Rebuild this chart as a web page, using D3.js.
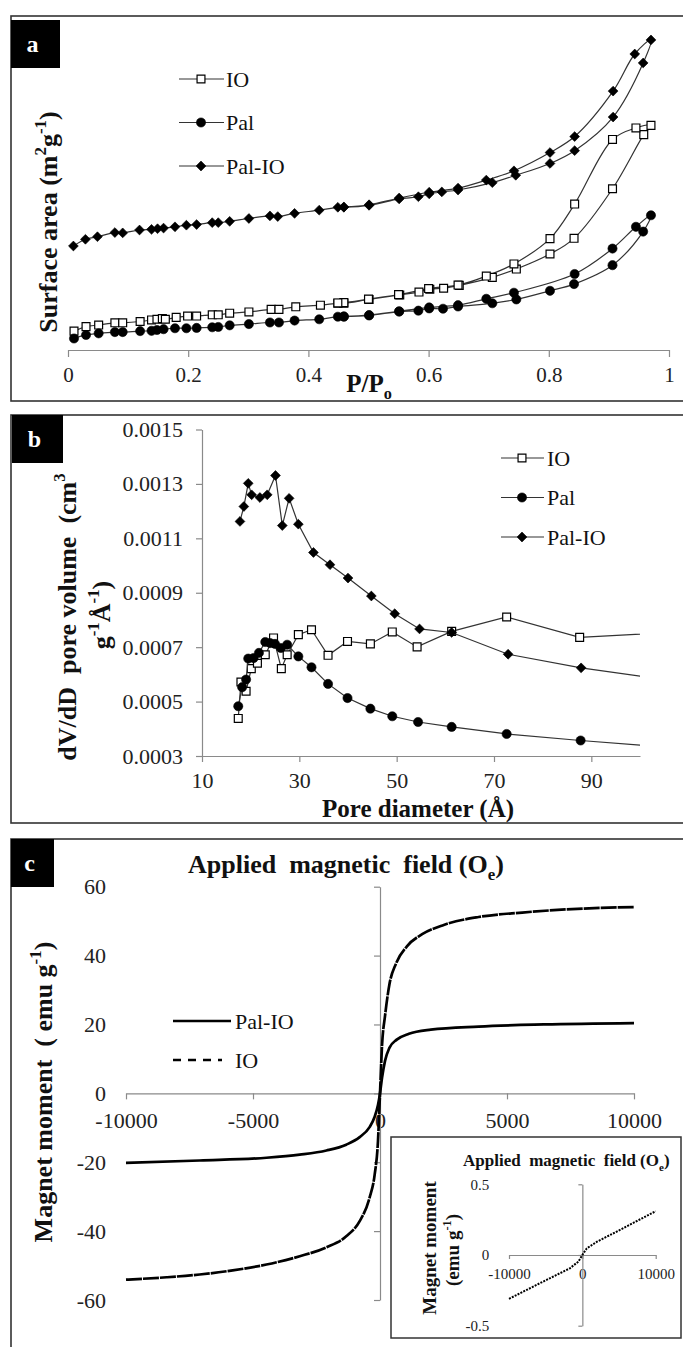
<!DOCTYPE html>
<html>
<head>
<meta charset="utf-8">
<script src="https://cdn.jsdelivr.net/npm/d3@7"></script>
<style>
  body { margin: 0; background: #fff; }
  svg, svg text { font-family: 'Liberation Serif', 'Times New Roman', serif !important; }
  text { fill: #111; }
  .axis path, .axis line { stroke: #8a8a8a; stroke-width: 1.2; }
  .axis text { fill: #222; }
</style>
</head>
<body>
<script>

// ---- data ----

// a: N2 isotherms, adsorption branch then desorption branch (arbitrary units, no y ticks)
var ioP = [0.010,0.030,0.051,0.078,0.091,0.120,0.139,0.148,0.157,0.162,0.180,0.199,0.214,0.240,0.250,0.269,0.301,0.338,0.351,0.379,0.420,0.449,0.459,0.501,0.552,0.584,0.602,0.625,0.651,0.706,0.746,0.802,0.842,0.906,0.958,0.970,
           0.945,0.906,0.843,0.802,0.742,0.696,0.649,0.600,0.550,0.500,0.459,0.449];
var ioS = [5.9,7.3,7.8,8.5,8.5,8.9,9.4,9.6,9.8,9.6,10.2,10.6,10.6,11.0,11.0,11.5,11.9,12.7,12.7,13.5,14.0,14.6,14.6,15.8,17.2,18.1,19.0,19.3,20.2,22.7,25.3,30.0,34.9,50.4,67.3,70.2,
           69.4,65.8,45.6,34.8,26.9,23.1,20.3,19.2,17.3,15.9,14.8,14.7];

var palP = [0.010,0.030,0.051,0.078,0.091,0.120,0.139,0.148,0.159,0.178,0.197,0.214,0.240,0.250,0.269,0.301,0.336,0.351,0.377,0.418,0.449,0.459,0.501,0.551,0.583,0.601,0.624,0.649,0.706,0.746,0.802,0.842,0.906,0.957,0.970,
            0.945,0.906,0.843,0.742,0.696,0.649,0.601,0.551,0.501,0.459];
var palS = [3.6,4.7,5.2,5.6,5.6,5.9,6.0,6.25,6.5,6.8,6.8,6.9,7.1,7.2,7.7,8.1,8.6,8.6,9.2,9.6,10.4,10.4,10.8,12.0,12.3,13.0,12.9,13.6,14.6,15.8,18.5,20.6,26.5,37.0,42.1,
            38.5,31.7,23.75,17.9,16.0,14.0,13.3,12.1,10.9,10.5];

var palIoP = [0.009,0.029,0.049,0.078,0.091,0.119,0.139,0.149,0.159,0.178,0.197,0.214,0.240,0.250,0.269,0.301,0.336,0.349,0.377,0.418,0.449,0.459,0.501,0.551,0.583,0.601,0.622,0.649,0.706,0.745,0.802,0.843,0.907,0.957,0.970,
              0.943,0.907,0.843,0.802,0.742,0.696,0.649,0.601,0.551,0.501,0.459];
var palIoS = [32.5,34.6,35.4,36.7,36.6,37.5,37.7,37.9,38.1,38.5,39.0,39.2,39.8,39.8,40.2,41.1,41.9,41.7,42.7,43.7,44.6,44.6,45.2,47.2,47.9,48.8,49.4,50.0,52.3,54.6,58.3,62.3,72.8,89.7,96.9,
              92.5,80.9,66.7,61.7,56.0,53.1,50.6,49.3,47.5,45.4,44.7];

var pTicks = [0, 0.2, 0.4, 0.6, 0.8, 1];

// b: pore size distribution
var ioD = [17.45,18.0,19.06,20.13,21.39,23.0,24.7,26.3,27.5,29.8,32.5,35.9,39.9,44.6,49.1,54.2,61.3,72.6,87.6,106];
var ioV = [0.000438,0.000572,0.000538,0.000621,0.000641,0.000672,0.000734,0.000621,0.000672,0.000746,0.000764,0.000670,0.000721,0.000712,0.000756,0.000701,0.000758,0.000811,0.000736,0.000754];

var palD = [17.45,18.25,19.06,19.5,20.6,21.7,23.0,24.0,25.0,26.2,27.5,29.8,32.5,35.9,39.9,44.6,49.1,54.4,61.3,72.6,87.8,106];
var palV = [0.000483,0.000553,0.000581,0.000658,0.000660,0.000679,0.000719,0.000715,0.000712,0.000697,0.000709,0.000666,0.000626,0.000565,0.000513,0.000474,0.000446,0.000425,0.000407,0.000381,0.000357,0.000332];

var palIoD = [17.8,18.6,19.5,20.2,21.9,23.4,25.1,26.5,27.9,29.8,32.9,36.3,40.0,44.8,49.6,54.7,61.3,72.9,87.9,106];
var palIoV = [0.001162,0.001217,0.001302,0.001260,0.001250,0.001260,0.001331,0.001147,0.001247,0.001152,0.001048,0.001003,0.000954,0.000888,0.000823,0.000767,0.000754,0.000674,0.000624,0.000578];

var dTicks = [10, 30, 50, 70, 90];
var vTicks = [0.0003, 0.0005, 0.0007, 0.0009, 0.0011, 0.0013, 0.0015];

// c: magnetization
var ioH = [-10000,-8400,-7100,-5800,-4470,-3160,-2110,-1330,-800,-410,-210,-80,0,80,200,370,630,1060,1660,2510,3880,5600,7300,10000];
var ioM = [-54.1,-53.4,-52.6,-51.4,-49.7,-47.3,-44.7,-41.5,-37.1,-30.3,-23.6,-13.9,0,13.9,22.6,31.6,37.7,42.7,46.2,48.9,51.2,52.5,53.4,54.1];

var palIoH = [-10000,-7100,-4470,-3160,-2110,-1330,-800,-410,-210,-80,0,80,200,370,660,1140,2000,3880,6450,10000];
var palIoM = [-20.2,-19.5,-18.7,-17.8,-16.6,-14.9,-12.7,-9.8,-6.8,-3.4,0,4.5,9.5,13.2,15.6,17.3,18.5,19.4,20.0,20.4];

var hTicks = [-10000, -5000, 0, 5000, 10000];
var mTicks = [-60, -40, -20, 0, 20, 40, 60];

// inset: Pal alone
var palH = [-10000,-5800,-1700,-550,0,600,2000,5600,10000];
var palM = [-0.31,-0.20,-0.094,-0.047,0,0.047,0.094,0.19,0.31];
var insetHTicks = [-10000, 0, 10000];
var insetMTicks = [-0.5, 0, 0.5];


// ---- setup ----

var serif = "'Liberation Serif', 'Times New Roman', serif";
var plain = function(d) { return String(d); };

var svg = d3.select('body').append('svg')
    .attr('width', 683)
    .attr('height', 1347)
    .attr('font-family', serif);

svg.append('rect').attr('width', 683).attr('height', 1347).attr('fill', '#fff');

// write text with super/subscripts
var rich = function(t, parts, fs) {
  var shift = 0;
  parts.forEach(function(p) {
    var target = p[1] === 'sup' ? -0.42 * fs : (p[1] === 'sub' ? 0.28 * fs : 0);
    t.append('tspan')
      .attr('dy', target - shift)
      .style('font-size', (p[1] ? 0.65 * fs : fs) + 'px')
      .text(p[0]);
    shift = target;
  });
  return t;
};

// axis helper: serif labels
var styleAxis = function(g, size) {
  g.attr('font-family', serif);
  g.selectAll('text').style('font-size', size + 'px').style('font-family', serif);
  return g;
};

var symbolPath = function(type) {
  if (type === 'square') return d3.symbol().type(d3.symbolSquare).size(62)();
  if (type === 'circle') return d3.symbol().type(d3.symbolCircle).size(66)();
  return d3.symbol().type(d3.symbolSquare).size(48)();
};

var drawMarks = function(g, pts, sx, sy, type) {
  g.selectAll(null)
    .data(pts)
    .enter().append('path')
    .attr('d', symbolPath(type))
    .attr('transform', function(d) {
      return 'translate(' + sx(d[0]) + ',' + sy(d[1]) + ')' + (type === 'diamond' ? ' rotate(45)' : '');
    })
    .attr('fill', type === 'square' ? '#fff' : '#000')
    .attr('stroke', '#000')
    .attr('stroke-width', type === 'square' ? 1.2 : 0.6);
};

// panel frames
var frames = [[16, 401], [415, 823], [839, 1370]];
svg.selectAll('rect.frame')
    .data(frames)
  .enter().append('rect')
    .attr('class', 'frame')
    .attr('x', 11)
    .attr('y', function(d) { return d[0]; })
    .attr('width', 690)
    .attr('height', function(d) { return d[1] - d[0]; })
    .attr('fill', 'none')
    .attr('stroke', '#333')
    .attr('stroke-width', 1.6);

// black tags a, b, c
var tags = [
  {t: 'a', x: 11, y: 20, w: 49, h: 48},
  {t: 'b', x: 12, y: 415, w: 51, h: 48},
  {t: 'c', x: 11, y: 839, w: 43, h: 48}
];
var tag = svg.selectAll('g.tag').data(tags).enter().append('g').attr('class', 'tag');
tag.append('rect')
    .attr('x', function(d) { return d.x; })
    .attr('y', function(d) { return d.y; })
    .attr('width', function(d) { return d.w; })
    .attr('height', function(d) { return d.h; })
    .attr('fill', '#000');
tag.append('text')
    .attr('x', function(d) { return d.x + d.w / 2 - 3; })
    .attr('y', function(d) { return d.y + d.h / 2 + 8; })
    .attr('text-anchor', 'middle')
    .style('font-size', '24px')
    .style('font-weight', 'bold')
    .style('fill', '#fff')
    .text(function(d) { return d.t; });


// ---- panel a ----

var xA = d3.scaleLinear().domain([0, 1]).range([68, 669]);
var yA = d3.scaleLinear().domain([0, 100]).range([350, 30]);

styleAxis(svg.append('g')
    .attr('class', 'axis')
    .attr('transform', 'translate(0,350)')
    .call(d3.axisBottom(xA).tickValues(pTicks).tickFormat(plain)
      .tickSizeInner(7).tickSizeOuter(0).tickPadding(10)), 21);

var seriesA = [
  {name: 'IO', type: 'square', pts: d3.zip(ioP, ioS)},
  {name: 'Pal', type: 'circle', pts: d3.zip(palP, palS)},
  {name: 'Pal-IO', type: 'diamond', pts: d3.zip(palIoP, palIoS)}
];

var lineA = d3.line()
    .x(function(d) { return xA(d[0]); })
    .y(function(d) { return yA(d[1]); })
    .curve(d3.curveCatmullRom.alpha(0.5));

seriesA.forEach(function(s) {
  var g = svg.append('g');
  g.append('path').attr('d', lineA(s.pts)).attr('fill', 'none').attr('stroke', '#333').attr('stroke-width', 1.2);
  drawMarks(g, s.pts, xA, yA, s.type);
});

// legend a
var legA = svg.selectAll('g.lega').data(seriesA).enter().append('g')
    .attr('class', 'lega')
    .attr('transform', function(d, i) { return 'translate(0,' + (79 + i * 43.5) + ')'; });
legA.append('line').attr('x1', 179).attr('x2', 224).attr('stroke', '#333').attr('stroke-width', 1.2);
legA.each(function(d) { drawMarks(d3.select(this), [[201, 0]], function(v) { return v; }, function(v) { return v; }, d.type); });
legA.append('text').attr('x', 226).attr('dy', '0.35em').style('font-size', '22px').text(function(d) { return d.name; });

// axis titles a
rich(svg.append('text')
    .attr('transform', 'translate(57,222) rotate(-90)')
    .attr('text-anchor', 'middle')
    .style('font-size', '26px').style('font-weight', 'bold').style('white-space', 'pre'),
  [['Surface area (m'], ['2', 'sup'], ['g'], ['-1', 'sup'], [')']], 26);

rich(svg.append('text')
    .attr('x', 369).attr('y', 392)
    .attr('text-anchor', 'middle')
    .style('font-size', '25px').style('font-weight', 'bold'),
  [['P/P'], ['o', 'sub']], 25);


// ---- panel b ----

var xB = d3.scaleLinear().domain([10, 100]).range([202, 640]);
var yB = d3.scaleLinear().domain([0.0003, 0.0015]).range([756, 429.5]);

styleAxis(svg.append('g')
    .attr('class', 'axis')
    .attr('transform', 'translate(0,756)')
    .call(d3.axisBottom(xB).tickValues(dTicks).tickFormat(plain).tickSizeInner(6).tickSizeOuter(0).tickPadding(10)), 22);

styleAxis(svg.append('g')
    .attr('class', 'axis')
    .attr('transform', 'translate(202,0)')
    .call(d3.axisLeft(yB).tickValues(vTicks).tickFormat(d3.format('.4f')).tickSizeInner(6).tickSizeOuter(0).tickPadding(13)), 22);

svg.append('clipPath').attr('id', 'clipb')
  .append('rect').attr('x', 202).attr('y', 420).attr('width', 438).attr('height', 345);

var seriesB = [
  {name: 'IO', type: 'square', pts: d3.zip(ioD, ioV)},
  {name: 'Pal', type: 'circle', pts: d3.zip(palD, palV)},
  {name: 'Pal-IO', type: 'diamond', pts: d3.zip(palIoD, palIoV)}
];

var lineB = d3.line()
    .x(function(d) { return xB(d[0]); })
    .y(function(d) { return yB(d[1]); });

seriesB.forEach(function(s) {
  var g = svg.append('g').attr('clip-path', 'url(#clipb)');
  g.append('path').attr('d', lineB(s.pts)).attr('fill', 'none').attr('stroke', '#333').attr('stroke-width', 1.2);
  drawMarks(g, s.pts, xB, yB, s.type);
});

var legB = svg.selectAll('g.legb').data(seriesB).enter().append('g')
    .attr('class', 'legb')
    .attr('transform', function(d, i) { return 'translate(0,' + (458 + i * 39.5) + ')'; });
legB.append('line').attr('x1', 501).attr('x2', 544).attr('stroke', '#333').attr('stroke-width', 1.2);
legB.each(function(d) { drawMarks(d3.select(this), [[522, 0]], function(v) { return v; }, function(v) { return v; }, d.type); });
legB.append('text').attr('x', 547).attr('dy', '0.35em').style('font-size', '22px').text(function(d) { return d.name; });

rich(svg.append('text')
    .attr('transform', 'translate(76,617) rotate(-90)')
    .attr('text-anchor', 'middle')
    .style('font-size', '26px').style('font-weight', 'bold').style('white-space', 'pre'),
  [['dV/dD  pore volume  (cm'], ['3', 'sup']], 26);
rich(svg.append('text')
    .attr('transform', 'translate(110,615) rotate(-90)')
    .attr('text-anchor', 'middle')
    .style('font-size', '26px').style('font-weight', 'bold'),
  [['g'], ['-1', 'sup'], ['Å'], ['-1', 'sup'], [')']], 26);

svg.append('text')
    .attr('x', 418).attr('y', 817)
    .attr('text-anchor', 'middle')
    .style('font-size', '25px').style('font-weight', 'bold')
    .text('Pore diameter (Å)');


// ---- panel c ----

var xC = d3.scaleLinear().domain([-10000, 10000]).range([126, 634]);
var yC = d3.scaleLinear().domain([-60, 60]).range([1300, 886.7]);

styleAxis(svg.append('g')
    .attr('class', 'axis')
    .attr('transform', 'translate(0,' + yC(0) + ')')
    .call(d3.axisBottom(xC).tickValues(hTicks).tickFormat(plain).tickSizeInner(6).tickSizeOuter(0).tickPadding(13)), 22);

styleAxis(svg.append('g')
    .attr('class', 'axis')
    .attr('transform', 'translate(' + xC(0) + ',0)')
    .call(d3.axisLeft(yC).tickValues(mTicks).tickFormat(plain).tickSizeInner(6).tickSizeOuter(0).tickPadding(268)), 22);

var lineC = d3.line()
    .x(function(d) { return xC(d[0]); })
    .y(function(d) { return yC(d[1]); })
    .curve(d3.curveMonotoneX);

svg.append('path').attr('d', lineC(d3.zip(palIoH, palIoM)))
    .attr('fill', 'none').attr('stroke', '#000').attr('stroke-width', 2.7);
svg.append('path').attr('d', lineC(d3.zip(ioH, ioM)))
    .attr('fill', 'none').attr('stroke', '#000').attr('stroke-width', 2.7)
    .attr('stroke-dasharray', '16,1');

// legend c
var legC = [{name: 'Pal-IO', y: 1021, x2: 231, dash: null}, {name: 'IO', y: 1060, x2: 222, dash: '8,7'}];
var lc = svg.selectAll('g.legc').data(legC).enter().append('g').attr('class', 'legc');
lc.append('line')
    .attr('x1', 173).attr('x2', function(d) { return d.x2; })
    .attr('y1', function(d) { return d.y; }).attr('y2', function(d) { return d.y; })
    .attr('stroke', '#000').attr('stroke-width', 2.7)
    .attr('stroke-dasharray', function(d) { return d.dash; });
lc.append('text')
    .attr('x', 235).attr('y', function(d) { return d.y; }).attr('dy', '0.35em')
    .style('font-size', '22px')
    .text(function(d) { return d.name; });

rich(svg.append('text')
    .attr('x', 188).attr('y', 873)
    .style('font-size', '26px').style('font-weight', 'bold').style('white-space', 'pre'),
  [['Applied  magnetic  field (O'], ['e', 'sub'], [')']], 26);

rich(svg.append('text')
    .attr('transform', 'translate(52,1092) rotate(-90)')
    .attr('text-anchor', 'middle')
    .style('font-size', '26px').style('font-weight', 'bold').style('white-space', 'pre'),
  [['Magnet moment  ( emu g'], ['-1', 'sup'], [')']], 26);

// inset
svg.append('rect')
    .attr('x', 391).attr('y', 1137).attr('width', 290).attr('height', 201)
    .attr('fill', '#fff').attr('stroke', '#333').attr('stroke-width', 1.5);

var xI = d3.scaleLinear().domain([-10000, 10000]).range([509, 655.7]);
var yI = d3.scaleLinear().domain([-0.5, 0.5]).range([1325.7, 1184.3]);

styleAxis(svg.append('g')
    .attr('class', 'axis')
    .attr('transform', 'translate(0,' + yI(0) + ')')
    .call(d3.axisBottom(xI).tickValues(insetHTicks).tickFormat(plain).tickSizeInner(4).tickSizeOuter(0).tickPadding(9)), 15);

styleAxis(svg.append('g')
    .attr('class', 'axis')
    .attr('transform', 'translate(' + xI(0) + ',0)')
    .call(d3.axisLeft(yI).tickValues(insetMTicks).tickFormat(plain).tickSizeInner(4).tickSizeOuter(0).tickPadding(89)), 15);

var lineI = d3.line()
    .x(function(d) { return xI(d[0]); })
    .y(function(d) { return yI(d[1]); });

svg.append('path').attr('d', lineI(d3.zip(palH, palM)))
    .attr('fill', 'none').attr('stroke', '#000').attr('stroke-width', 2)
    .attr('stroke-dasharray', '2,1.2');

rich(svg.append('text')
    .attr('x', 463).attr('y', 1166)
    .style('font-size', '17px').style('font-weight', 'bold').style('white-space', 'pre'),
  [['Applied  magnetic  field (O'], ['e', 'sub'], [')']], 17);

svg.append('text')
    .attr('transform', 'translate(436,1248) rotate(-90)')
    .attr('text-anchor', 'middle')
    .style('font-size', '19px').style('font-weight', 'bold')
    .text('Magnet moment');
rich(svg.append('text')
    .attr('transform', 'translate(459,1250) rotate(-90)')
    .attr('text-anchor', 'middle')
    .style('font-size', '19px').style('font-weight', 'bold'),
  [['(emu g'], ['-1', 'sup'], [')']], 19);

</script>
</body>
</html>
